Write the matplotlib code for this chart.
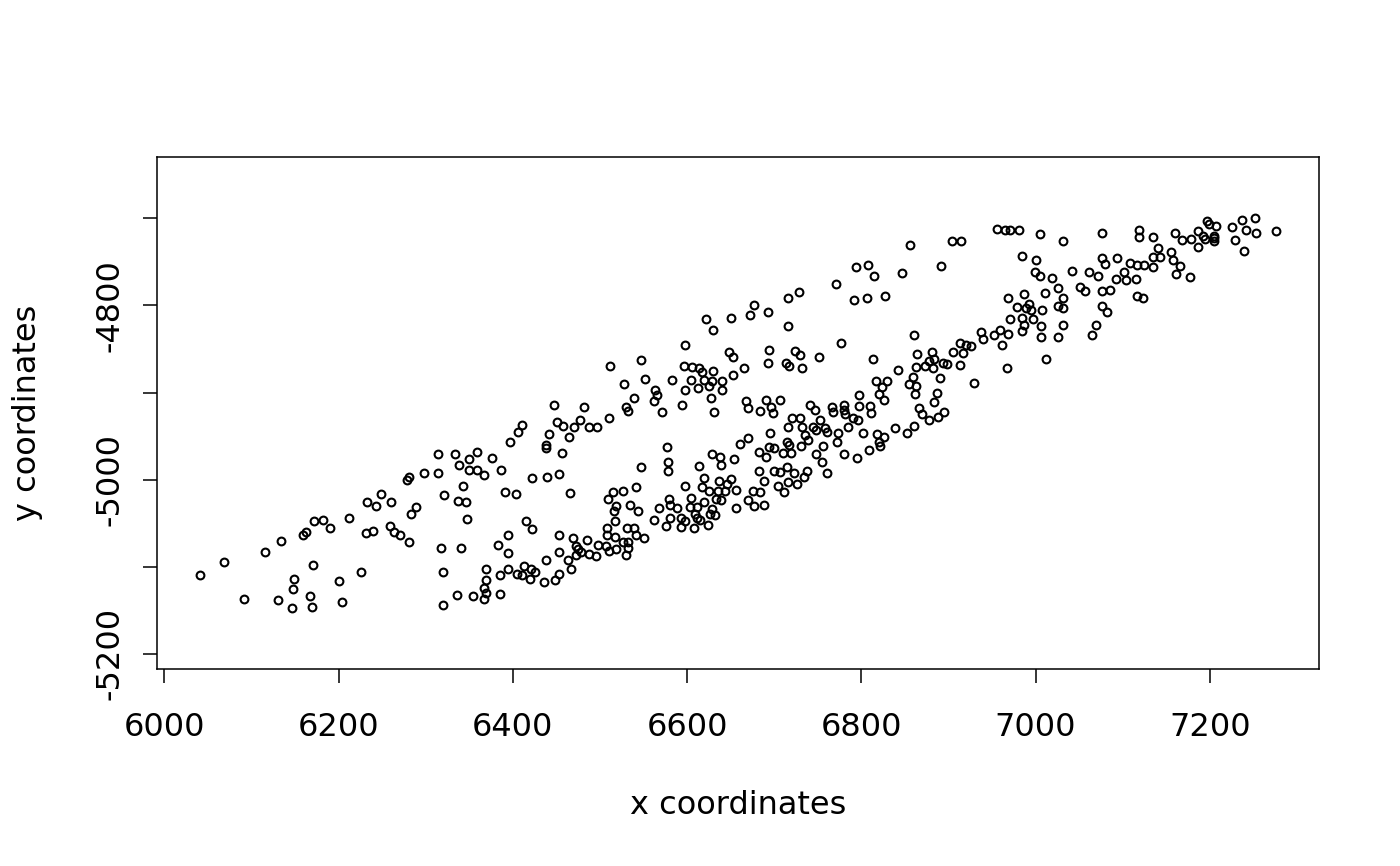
import numpy as np
import matplotlib
matplotlib.use("Agg")
import matplotlib.pyplot as plt

# point coordinates (west -> east)
x_far_west = [6212, 6172, 6182, 6190, 6163, 6159, 6134, 6116, 6068, 6041,
              6171, 6149, 6148, 6201, 6092, 6131, 6167, 6146, 6169, 6204]
y_far_west = [-5044, -5047, -5046, -5055, -5060, -5064, -5070, -5083, -5095, -5109,
              -5098, -5114, -5126, -5116, -5137, -5138, -5134, -5147, -5146, -5140]

x_west_top = [6314, 6334, 6359, 6350, 6376, 6338, 6350, 6359, 6367, 6298,
              6314, 6281, 6279, 6343, 6249, 6321, 6233, 6243, 6260, 6289, 6337, 6346]
y_west_top = [-4971, -4971, -4968, -4976, -4975, -4983, -4989, -4989, -4995, -4992,
              -4992, -4997, -5000, -5007, -5016, -5018, -5026, -5030, -5026, -5031, -5025, -5026]

x_west_low = [6283, 6231, 6239, 6259, 6264, 6270, 6281, 6318, 6341, 6348,
              6226, 6320, 6369, 6369, 6367, 6369, 6367, 6336, 6354, 6320]
y_west_low = [-5039, -5061, -5059, -5053, -5060, -5063, -5071, -5078, -5079, -5045,
              -5106, -5106, -5103, -5115, -5124, -5130, -5137, -5132, -5134, -5144]

x_mid_top = [6512, 6547, 6552, 6528, 6539, 6530, 6532, 6511, 6482, 6447,
             6410, 6406, 6397, 6451, 6458, 6470, 6477, 6488, 6497, 6465,
             6441, 6438, 6438, 6457, 6387, 6422, 6439, 6453, 6547]
y_mid_top = [-4869, -4863, -4884, -4890, -4906, -4917, -4921, -4929, -4917, -4914,
             -4937, -4945, -4957, -4934, -4938, -4939, -4932, -4939, -4939, -4951,
             -4948, -4960, -4964, -4969, -4989, -4998, -4997, -4994, -4985]

x_mid_low = [6391, 6404, 6466, 6509, 6515, 6527, 6541, 6519, 6516, 6535,
             6544, 6517, 6415, 6422, 6508, 6508, 6517, 6531, 6539, 6541,
             6551, 6395, 6383, 6395, 6453, 6469, 6485, 6472, 6475, 6478,
             6488, 6496, 6498, 6507, 6511, 6519, 6527, 6532, 6532, 6530,
             6453, 6473, 6463, 6438, 6467, 6413, 6421, 6426, 6395, 6405,
             6410, 6385, 6420, 6436, 6449, 6453, 6385]
y_mid_low = [-5014, -5016, -5015, -5022, -5014, -5013, -5009, -5030, -5036, -5029,
             -5036, -5047, -5048, -5057, -5056, -5064, -5066, -5056, -5055, -5063,
             -5067, -5063, -5075, -5084, -5064, -5067, -5069, -5076, -5080, -5083,
             -5085, -5088, -5075, -5076, -5082, -5080, -5072, -5071, -5079, -5087,
             -5083, -5087, -5092, -5092, -5102, -5099, -5102, -5106, -5102, -5108,
             -5110, -5109, -5114, -5117, -5115, -5108, -5131]

x_centre_top = [6728, 6716, 6677, 6672, 6693, 6650, 6622, 6630, 6716, 6598,
                6648, 6653, 6694, 6724, 6730, 6693, 6714, 6717, 6732, 6665,
                6653, 6597, 6606, 6614, 6617, 6630, 6583, 6605, 6619, 6629,
                6640, 6625, 6613, 6598, 6640, 6563, 6566, 6562, 6628, 6594,
                6668, 6670, 6691, 6707, 6696, 6684, 6699, 6571, 6631]
y_centre_top = [-4785, -4792, -4799, -4811, -4808, -4814, -4816, -4828, -4824, -4845,
                -4854, -4859, -4851, -4852, -4857, -4866, -4866, -4869, -4872, -4872,
                -4880, -4870, -4871, -4872, -4877, -4875, -4886, -4886, -4886, -4887,
                -4887, -4892, -4895, -4897, -4897, -4897, -4903, -4910, -4906, -4914,
                -4910, -4918, -4909, -4909, -4917, -4921, -4923, -4922, -4922]

x_centre_low = [6720, 6730, 6716, 6732, 6695, 6670, 6661, 6715, 6717, 6694,
                6700, 6683, 6691, 6710, 6719, 6731, 6577, 6629, 6638, 6639,
                6654, 6578, 6578, 6614, 6683, 6700, 6707, 6715, 6723, 6734,
                6688, 6716, 6726, 6704, 6711, 6619, 6598, 6617, 6625, 6637,
                6644, 6650, 6646, 6656, 6636, 6676, 6684, 6670, 6677, 6688,
                6656, 6605, 6619, 6633, 6639, 6579, 6581, 6568, 6589, 6603,
                6611, 6629, 6626, 6632, 6609, 6611, 6615, 6593, 6598, 6581,
                6562, 6576, 6593, 6608, 6624]
y_centre_low = [-4929, -4929, -4940, -4939, -4946, -4952, -4959, -4957, -4960, -4962,
                -4964, -4968, -4974, -4969, -4969, -4961, -4962, -4971, -4974, -4983,
                -4976, -4980, -4990, -4984, -4990, -4990, -4991, -4986, -4992, -4997,
                -5001, -5003, -5005, -5007, -5014, -4998, -5007, -5008, -5013, -5001,
                -5013, -4999, -5005, -5012, -5013, -5013, -5014, -5023, -5030, -5029,
                -5033, -5021, -5026, -5022, -5023, -5022, -5029, -5032, -5033, -5031,
                -5031, -5034, -5039, -5041, -5039, -5044, -5046, -5044, -5048, -5044,
                -5046, -5053, -5054, -5055, -5052]

x_east_top = [6904, 6915, 6856, 6891, 6808, 6794, 6815, 6847, 6771, 6792,
              6806, 6827, 6860, 6777, 6905, 6881, 6864, 6751, 6813]
y_east_top = [-4726, -4726, -4731, -4755, -4754, -4756, -4766, -4763, -4775, -4794,
              -4792, -4789, -4834, -4843, -4853, -4854, -4856, -4859, -4861]

x_east_low = [6842, 6863, 6873, 6878, 6884, 6882, 6894, 6898, 6890, 6859,
              6855, 6863, 6862, 6887, 6883, 6817, 6829, 6824, 6820, 6826,
              6797, 6797, 6810, 6811, 6741, 6747, 6766, 6768, 6780, 6780,
              6781, 6790, 6796, 6866, 6870, 6878, 6888, 6895, 6745, 6748,
              6753, 6758, 6761, 6773, 6785, 6802, 6818, 6826, 6820, 6821,
              6839, 6852, 6860, 6735, 6739, 6756, 6772, 6780, 6795, 6809,
              6748, 6755, 6738, 6761]
y_east_low = [-4874, -4871, -4870, -4864, -4861, -4872, -4866, -4867, -4883, -4882,
              -4890, -4892, -4902, -4901, -4911, -4887, -4887, -4894, -4902, -4909,
              -4903, -4915, -4916, -4923, -4914, -4920, -4917, -4922, -4914, -4920,
              -4925, -4929, -4932, -4918, -4925, -4931, -4928, -4922, -4940, -4943,
              -4931, -4941, -4945, -4946, -4940, -4947, -4948, -4951, -4957, -4961,
              -4941, -4946, -4938, -4949, -4954, -4961, -4957, -4971, -4975, -4966,
              -4971, -4980, -4990, -4992]

x_far_east = [6956, 6965, 6971, 6981, 7005, 7032, 7076, 6985, 7000, 7076,
              7080, 7094, 6999, 7005, 7019, 7042, 7061, 7072, 7101, 7092,
              7104, 7051, 7057, 7076, 7086, 7026, 7011, 7032, 6987, 6968,
              6992, 6979, 6989, 6995, 7007, 7026, 7032, 7076, 7082, 6971,
              6984, 6997, 6987, 6985, 7006, 7031, 7070, 7065, 6959, 6952,
              6968, 6938, 6940, 7006, 7026, 6961, 6913, 6920, 6926, 6917,
              6913, 7012, 6967, 6929]
y_far_east = [-4712, -4713, -4714, -4714, -4718, -4726, -4717, -4743, -4748, -4746,
              -4752, -4746, -4762, -4766, -4768, -4761, -4762, -4766, -4762, -4770,
              -4771, -4779, -4784, -4783, -4782, -4780, -4786, -4792, -4787, -4792,
              -4798, -4802, -4803, -4805, -4805, -4801, -4803, -4801, -4808, -4816,
              -4814, -4816, -4823, -4829, -4824, -4823, -4823, -4834, -4828, -4834,
              -4833, -4831, -4839, -4836, -4836, -4846, -4843, -4846, -4847, -4855,
              -4868, -4861, -4872, -4889]

x_tip = [7197, 7199, 7207, 7237, 7252, 7225, 7242, 7253, 7276, 7229,
         7239, 7186, 7192, 7194, 7205, 7205, 7205, 7178, 7187, 7168,
         7160, 7135, 7119, 7119, 7141, 7135, 7143, 7156, 7158, 7166,
         7161, 7177, 7108, 7116, 7125, 7135, 7115, 7117, 7123]
y_tip = [-4703, -4706, -4709, -4702, -4700, -4710, -4714, -4717, -4715, -4725,
         -4738, -4715, -4720, -4724, -4720, -4723, -4726, -4724, -4733, -4725,
         -4717, -4721, -4713, -4722, -4734, -4745, -4744, -4739, -4748, -4755,
         -4764, -4767, -4751, -4754, -4754, -4756, -4770, -4789, -4791]

x_ticks = [6000, 6200, 6400, 6600, 6800, 7000, 7200]
y_ticks = [-5200, -5100, -5000, -4900, -4800, -4700]
y_tick_labels = ["-5200", "", "-5000", "", "-4800", ""]

x = np.concatenate([x_far_west, x_west_top, x_west_low, x_mid_top, x_mid_low,
                    x_centre_top, x_centre_low, x_east_top, x_east_low, x_far_east, x_tip])
y = np.concatenate([y_far_west, y_west_top, y_west_low, y_mid_top, y_mid_low,
                    y_centre_top, y_centre_low, y_east_top, y_east_low, y_far_east, y_tip])

W, H = 1400, 866
fig = plt.figure(figsize=(W / 100, H / 100), dpi=100)
box = [157 / W, 197 / H, 1162 / W, 512 / H]
ax = fig.add_axes(box)

ax.plot(x, y, linestyle="none", marker="o", markersize=5.6,
        markerfacecolor="none", markeredgecolor="black", markeredgewidth=1.5)

# R style limits: 4% padding on x, y stretched so that one unit is the same on both axes
pad = 0.04 * (x.max() - x.min())
x0, x1 = x.min() - pad, x.max() + pad
y_span = (x1 - x0) * (box[3] * H) / (box[2] * W)
yc = (y.min() + y.max()) / 2
ax.set_xlim(x0, x1)
ax.set_ylim(yc - y_span / 2, yc + y_span / 2)

ax.set_xticks(x_ticks)
ax.set_yticks(y_ticks)
ax.set_yticklabels(y_tick_labels, rotation=90, va="center")
ax.tick_params(axis="both", length=10, width=1.1, labelsize=23, color="black")
ax.tick_params(axis="x", pad=21)
ax.tick_params(axis="y", pad=13)
for s in ax.spines.values():
    s.set_linewidth(1.1)

fig.text(738 / W, 1 - 805 / H, "x coordinates", ha="center", va="center", fontsize=23)
fig.text(28 / W, 1 - 413 / H, "y coordinates", ha="center", va="center",
         fontsize=23, rotation=90)

fig.savefig("out.png", dpi=100, facecolor="white")
